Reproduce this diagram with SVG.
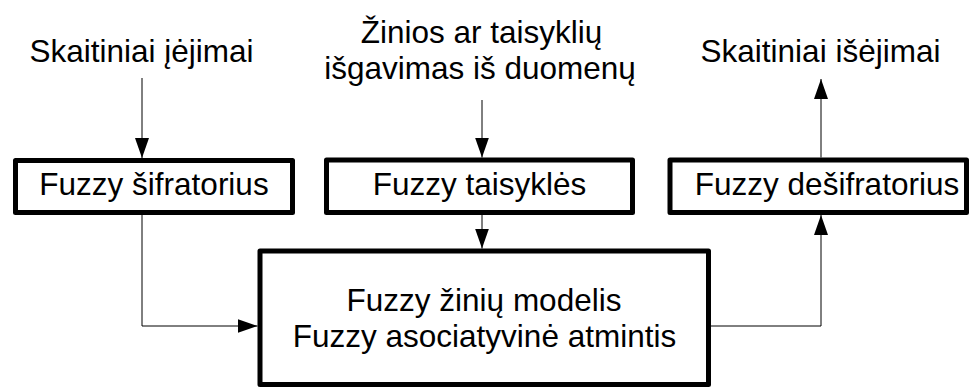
<svg xmlns="http://www.w3.org/2000/svg" width="978" height="387" viewBox="0 0 978 387">
  <style>
    .box { fill: #ffffff; stroke: #000000; stroke-width: 5; stroke-linejoin: round; }
    .lbl { font-family: "Liberation Sans", Arial, sans-serif; font-size: 31.5px; fill: #000000; text-anchor: middle; }
    .wire { fill: none; stroke: #000000; stroke-width: 1; marker-end: url(#arrow); }
  </style>
  <defs>
    <marker id="arrow" markerUnits="userSpaceOnUse" markerWidth="20" markerHeight="14" viewBox="0 0 20 14" refX="20" refY="7" orient="auto">
      <path d="M0,0 L20,7 L0,14 Z" fill="#000000"/>
    </marker>
  </defs>

  <rect width="978" height="387" fill="#ffffff"/>

  <!-- free labels -->
  <g id="input-label">
    <text class="lbl" x="141.5" y="62">Skaitiniai įėjimai</text>
  </g>
  <g id="extraction-label">
    <text class="lbl" x="481.5" y="42.5">Žinios ar taisyklių</text>
    <text class="lbl" x="480" y="79">išgavimas iš duomenų</text>
  </g>
  <g id="output-label">
    <text class="lbl" x="820.5" y="62">Skaitiniai išėjimai</text>
  </g>

  <!-- blocks -->
  <g id="fuzzifier">
    <rect class="box" x="15.5" y="160.5" width="277" height="52"/>
    <text class="lbl" x="154" y="195">Fuzzy šifratorius</text>
  </g>
  <g id="rules">
    <rect class="box" x="326.5" y="160" width="306" height="52.5"/>
    <text class="lbl" x="479.5" y="195">Fuzzy taisyklės</text>
  </g>
  <g id="defuzzifier">
    <rect class="box" x="670" y="160" width="296.5" height="52.5"/>
    <text class="lbl" x="827" y="195">Fuzzy dešifratorius</text>
  </g>
  <g id="knowledge-model">
    <rect class="box" x="260" y="251" width="448.5" height="133.5"/>
    <text class="lbl" x="484" y="311">Fuzzy žinių modelis</text>
    <text class="lbl" x="484.5" y="347">Fuzzy asociatyvinė atmintis</text>
  </g>

  <!-- connectors -->
  <g id="connectors">
    <path class="wire" d="M142,78 V158"/>
    <path class="wire" d="M482,100 V157.5"/>
    <path class="wire" d="M482,215 V248.5"/>
    <path class="wire" d="M142,213 V326 H257.5"/>
    <path class="wire" d="M711,326 H821 V215"/>
    <path class="wire" d="M821,157.5 V79"/>
  </g>
</svg>
